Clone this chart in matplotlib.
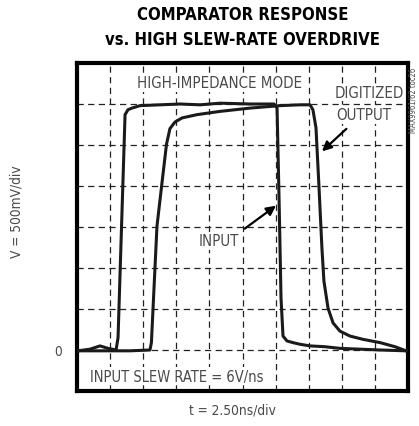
import matplotlib
matplotlib.use('Agg')
import matplotlib.pyplot as plt
from matplotlib import font_manager
import numpy as np

# Traces read from the scope shot (time in ns, voltage in V)
input_t = [0.08, 0.98, 1.74, 2.34, 2.95, 3.10, 3.63, 3.85, 4.15, 4.76, 6.27,
           7.78, 9.29, 10.80, 13.07, 14.88, 15.11, 15.26, 15.41, 15.56, 15.86,
           16.31, 16.84, 17.60, 18.73, 19.86, 21.37, 22.89, 24.85]
input_v = [-0.01, 0.01, 0.05, 0.02, 0.0, 0.15, 2.87, 2.93, 2.95, 2.98, 2.99,
           3.0, 2.99, 3.01, 3.0, 3.0, 2.95, 1.85, 0.63, 0.17, 0.11,
           0.09, 0.07, 0.05, 0.04, 0.02, 0.01, 0.0, -0.01]

output_t = [0.08, 1.74, 4.0, 5.51, 5.62, 6.04, 6.42, 6.76, 7.02, 7.40, 7.93,
            9.06, 10.80, 13.07, 15.33, 16.84, 17.60, 17.82, 18.05, 18.28,
            18.50, 18.65, 18.96, 19.34, 19.86, 20.62, 21.60, 22.89, 24.02, 24.85]
output_v = [-0.01, -0.01, -0.01, 0.0, 0.09, 1.51, 2.04, 2.51, 2.70, 2.78, 2.83,
            2.87, 2.91, 2.95, 2.98, 2.99, 2.99, 2.93, 2.71, 1.98,
            1.24, 0.84, 0.51, 0.33, 0.23, 0.17, 0.13, 0.09, 0.04, -0.01]

t_ticks = np.arange(0, 25.01, 2.5)
v_ticks = np.arange(-0.5, 3.51, 0.5)

installed = {f.name for f in font_manager.fontManager.ttflist}
narrow = ['Liberation Sans Narrow', 'DejaVu Sans'] \
    if 'Liberation Sans Narrow' in installed else ['DejaVu Sans']
stretch = 'condensed'
grey = '#4a4a4a'

fig = plt.figure(figsize=(4.19, 4.27), dpi=100)
ax = fig.add_axes([77 / 419, 1 - 392 / 427, 331 / 419, 328 / 427])

ax.plot(input_t, input_v, color='#1a1a1a', linewidth=2.2,
        solid_joinstyle='round', zorder=3)
ax.plot(output_t, output_v, color='#1a1a1a', linewidth=2.2,
        solid_joinstyle='round', zorder=3)

ax.set_xlim(0, 25)
ax.set_ylim(-0.5, 3.5)
ax.set_xticks(t_ticks)
ax.set_yticks(v_ticks)
ax.tick_params(length=0, labelbottom=False, labelleft=False)
ax.grid(True, color='#222222', linewidth=0.9, linestyle=(0, (5, 3.5)))
for s in ax.spines.values():
    s.set_linewidth(3)
    s.set_color('black')

txt = dict(color=grey, family=narrow, fontstretch=stretch)
box = dict(facecolor='white', edgecolor='none', pad=1.0)

# annotations inside the screen (white boxes hide the grid behind them)
ax.text(10.8, 3.26, 'HIGH-IMPEDANCE MODE', ha='center', va='center',
        fontsize=10.8, bbox=box, zorder=4, **txt)
ax.text(19.45, 3.14, 'DIGITIZED', ha='left', va='center', fontsize=10.8,
        bbox=box, zorder=4, **txt)
ax.text(19.55, 2.87, 'OUTPUT', ha='left', va='center', fontsize=10.8,
        bbox=box, zorder=4, **txt)
ax.text(10.7, 1.33, 'INPUT', ha='center', va='center', fontsize=10.8,
        bbox=box, zorder=4, **txt)
ax.text(1.0, -0.32, 'INPUT SLEW RATE = 6V/ns', ha='left', va='center',
        fontsize=10.5, bbox=box, zorder=4, **txt)
ax.annotate('', xy=(18.35, 2.40), xytext=(20.5, 2.72), zorder=5,
            arrowprops=dict(arrowstyle='-|>', color='black', lw=1.6,
                            mutation_scale=14))
ax.annotate('', xy=(15.2, 1.78), xytext=(12.5, 1.46), zorder=5,
            arrowprops=dict(arrowstyle='-|>', color='black', lw=1.6,
                            mutation_scale=14))

# labels around the screen
fig.text(243 / 419, 1 - 15 / 427, 'COMPARATOR RESPONSE', ha='center',
         va='center', fontsize=12, fontweight='bold', family=narrow,
         fontstretch=stretch)
fig.text(242 / 419, 1 - 40 / 427, 'vs. HIGH SLEW-RATE OVERDRIVE', ha='center',
         va='center', fontsize=12, fontweight='bold', family=narrow,
         fontstretch=stretch)
fig.text(17 / 419, 1 - 212 / 427, 'V = 500mV/div', rotation=90, ha='center',
         va='center', fontsize=9.8, **txt)
fig.text(58 / 419, 1 - 352 / 427, '0', ha='center', va='center',
         fontsize=9.8, **txt)
fig.text(232 / 419, 1 - 411 / 427, 't = 2.50ns/div', ha='center', va='center',
         fontsize=9.8, **txt)
fig.text(413 / 419, 1 - 100 / 427, 'MAX9961/62 toc26', rotation=90,
         ha='center', va='center', fontsize=5.5, **txt)

fig.savefig('out.png', dpi=100)
